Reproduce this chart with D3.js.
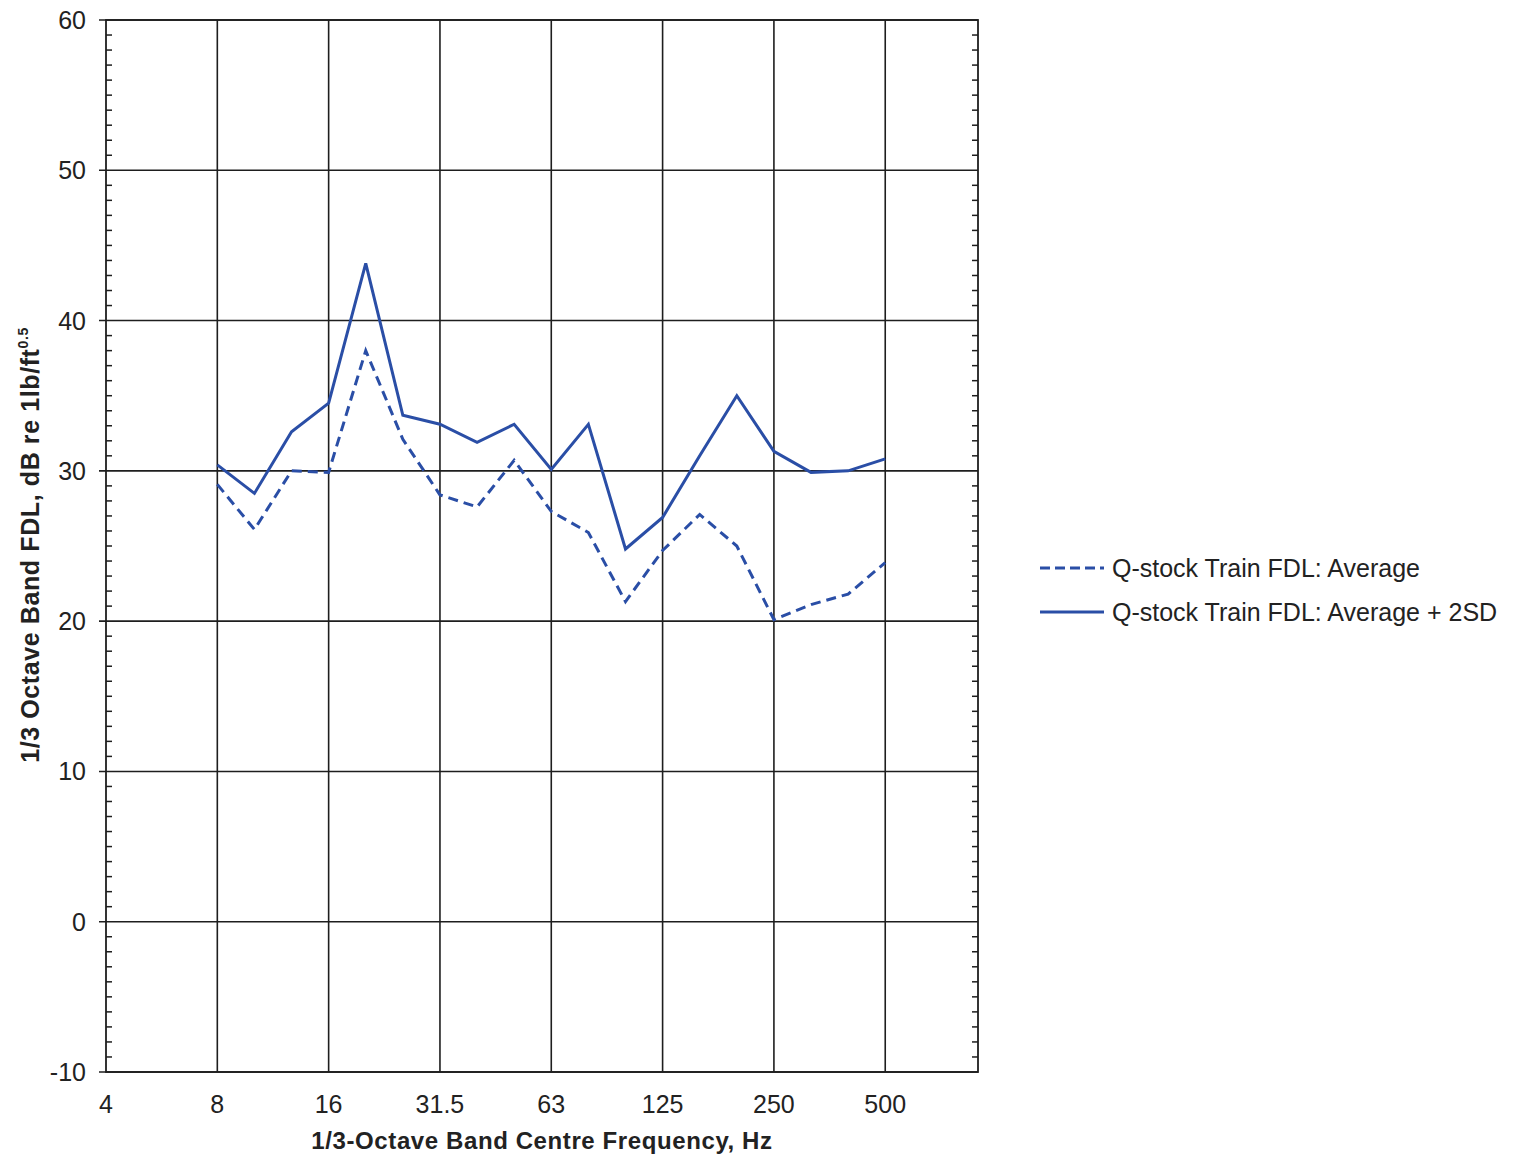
<!DOCTYPE html>
<html>
<head>
<meta charset="utf-8">
<script src="https://cdn.jsdelivr.net/npm/d3@7"></script>
<style>
  body { margin: 0; background: #fff; }
  svg { font-family: "Liberation Sans", Arial, sans-serif; }
</style>
</head>
<body>
<div id="chart"></div>
<script>
// 1/3-octave band centres, index 0 = 4 Hz
var bands = ["4","5","6.3","8","10","12.5","16","20","25","31.5","40","50","63","80","100","125","160","200","250","315","400","500"];
var tickBands = ["4","8","16","31.5","63","125","250","500"];
var seriesBands = ["8","10","12.5","16","20","25","31.5","40","50","63","80","100","125","160","200","250","315","400","500"];
var avg = [29.1, 26.1, 30.0, 29.9, 38.0, 32.1, 28.4, 27.6, 30.7, 27.3, 25.9, 21.3, 24.7, 27.1, 25.0, 20.1, 21.1, 21.8, 23.9];
var avg2sd = [30.4, 28.5, 32.6, 34.5, 43.8, 33.7, 33.1, 31.9, 33.1, 30.1, 33.1, 24.8, 26.9, 31.0, 35.0, 31.3, 29.9, 30.0, 30.8];
var yTicks = [-10, 0, 10, 20, 30, 40, 50, 60];
var legendLabels = ["Q-stock Train FDL: Average", "Q-stock Train FDL: Average + 2SD"];

var width = 1519, height = 1158;
var plotLeft = 106, plotRight = 978, plotTop = 20, plotBottom = 1072;
var blue = "#2a4ea6", gridCol = "#1e1e1e";

var svg = d3.select("#chart").append("svg").attr("width", width).attr("height", height);

var x = d3.scaleLinear().domain([0, 23.5]).range([plotLeft, plotRight]);
var y = d3.scaleLinear().domain([-10, 60]).range([plotBottom, plotTop]);
var idx = function(b) { return bands.indexOf(b); };

// minor ticks left and right (inside)
var minor = d3.range(-10, 60.01, 1).filter(function(v) { return v % 10 != 0; });
svg.append("g").selectAll("line").data(minor).enter().append("line")
    .attr("x1", plotLeft).attr("x2", plotLeft + 6)
    .attr("y1", function(d) { return y(d); }).attr("y2", function(d) { return y(d); })
    .attr("stroke", gridCol).attr("stroke-width", 1.5);
svg.append("g").selectAll("line").data(minor).enter().append("line")
    .attr("x1", plotRight - 6).attr("x2", plotRight)
    .attr("y1", function(d) { return y(d); }).attr("y2", function(d) { return y(d); })
    .attr("stroke", gridCol).attr("stroke-width", 1.5);

// horizontal grid
svg.append("g").selectAll("line").data(yTicks).enter().append("line")
    .attr("x1", plotLeft - 7).attr("x2", plotRight)
    .attr("y1", function(d) { return y(d); }).attr("y2", function(d) { return y(d); })
    .attr("stroke", gridCol).attr("stroke-width", 1.6);

// vertical grid
svg.append("g").selectAll("line").data(tickBands.slice(1)).enter().append("line")
    .attr("x1", function(d) { return x(idx(d)); }).attr("x2", function(d) { return x(idx(d)); })
    .attr("y1", plotTop).attr("y2", plotBottom)
    .attr("stroke", gridCol).attr("stroke-width", 1.6);

// frame
svg.append("rect").attr("x", plotLeft).attr("y", plotTop)
    .attr("width", plotRight - plotLeft).attr("height", plotBottom - plotTop)
    .attr("fill", "none").attr("stroke", gridCol).attr("stroke-width", 1.8);

// y tick labels
svg.append("g").selectAll("text").data(yTicks).enter().append("text")
    .attr("x", plotLeft - 20).attr("y", function(d) { return y(d) + 9; })
    .attr("text-anchor", "end").attr("font-size", "25px").attr("fill", "#222")
    .text(function(d) { return d; });

// x tick labels
svg.append("g").selectAll("text").data(tickBands).enter().append("text")
    .attr("x", function(d) { return x(idx(d)); }).attr("y", 1113)
    .attr("text-anchor", "middle").attr("font-size", "25px").attr("fill", "#222")
    .text(function(d) { return d; });

// axis titles
svg.append("text")
    .attr("x", 542).attr("y", 1149)
    .attr("text-anchor", "middle").attr("font-size", "24px").attr("font-weight", "bold").attr("fill", "#222")
    .attr("letter-spacing", "0.6px")
    .text("1/3-Octave Band Centre Frequency, Hz");

var yt = svg.append("text")
    .attr("transform", "translate(39,545) rotate(-90)")
    .attr("text-anchor", "middle").attr("font-size", "25px").attr("font-weight", "bold").attr("fill", "#222")
    .attr("letter-spacing", "0.6px");
yt.append("tspan").text("1/3 Octave Band FDL, dB re 1lb/ft");
yt.append("tspan").attr("font-size", "14px").attr("dy", "-11").text("0.5");

// series
var line = d3.line()
    .x(function(d, i) { return x(idx(seriesBands[i])); })
    .y(function(d) { return y(d); });

svg.append("path").datum(avg)
    .attr("d", line).attr("fill", "none")
    .attr("stroke", blue).attr("stroke-width", 3)
    .attr("stroke-dasharray", "10,6");

svg.append("path").datum(avg2sd)
    .attr("d", line).attr("fill", "none")
    .attr("stroke", blue).attr("stroke-width", 3);

// legend
var lg = svg.append("g").selectAll("g").data(legendLabels).enter().append("g")
    .attr("transform", function(d, i) { return "translate(1040," + (568 + i * 44) + ")"; });
lg.append("line").attr("x1", 0).attr("x2", 64).attr("y1", 0).attr("y2", 0)
    .attr("stroke", blue).attr("stroke-width", 3)
    .attr("stroke-dasharray", function(d, i) { return i == 0 ? "10,5" : null; });
lg.append("text").attr("x", 72).attr("y", 9)
    .attr("font-size", "25px").attr("fill", "#222")
    .text(function(d) { return d; });
</script>
</body>
</html>
